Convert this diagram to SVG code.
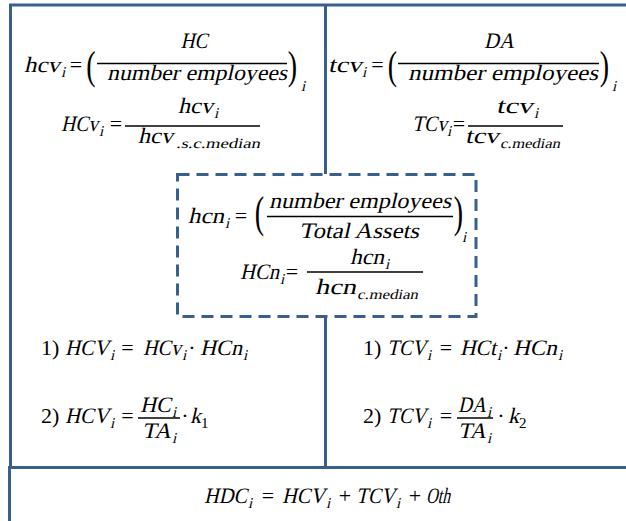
<svg xmlns="http://www.w3.org/2000/svg" width="626" height="521" viewBox="0 0 626 521">
<style>
.f{font-family:"Liberation Serif",serif;font-style:normal;font-size:22px;fill:#000}
.c{text-anchor:middle}
.sb{font-size:15px}
.sm{font-size:14px}
.p{font-family:"Liberation Serif",serif;font-style:normal;font-size:28px;text-anchor:middle;fill:#000}
.bar{stroke:#000;stroke-width:1.3}
.ln{stroke:#3A5F8B;stroke-width:3;fill:none}
.dash{stroke-dasharray:12 7}
</style>
<rect width="626" height="521" fill="#fff"/>
<g id="connectors">
<path class="ln" d="M10.5 4 V468 M9 5 H626 M325.5 5 V174 M325.5 316 V468 M8 467.5 H626 M9.5 467 V521"/>
</g>
<g id="hcv-box">
<text class="f" transform="translate(24,72) skewX(-13)" textLength="36" lengthAdjust="spacingAndGlyphs">hcv</text>
<text class="f sb" transform="translate(61,77) skewX(-13)">i</text>
<text class="f c" x="76" y="72">=</text>
<text class="p" transform="translate(91,79) scale(1,1.4)">(</text>
<line class="bar" x1="97" y1="63.5" x2="287" y2="63.5"/>
<text class="f c" transform="translate(194,48) skewX(-13)" textLength="27" lengthAdjust="spacingAndGlyphs">HC</text>
<text class="f c" transform="translate(197,80) skewX(-13)" textLength="180" lengthAdjust="spacingAndGlyphs">number employees</text>
<text class="p" transform="translate(292.5,79) scale(1,1.4)">)</text>
<text class="f sb" transform="translate(301,91) skewX(-13)">i</text>
<text class="f" transform="translate(61,131) skewX(-13)" textLength="37" lengthAdjust="spacingAndGlyphs">HCv</text>
<text class="f sb" transform="translate(99,136) skewX(-13)">i</text>
<text class="f c" x="116" y="131">=</text>
<line class="bar" x1="125" y1="126" x2="260" y2="126"/>
<text class="f" transform="translate(178,113) skewX(-13)" textLength="35" lengthAdjust="spacingAndGlyphs">hcv</text>
<text class="f sb" transform="translate(214,118) skewX(-13)">i</text>
<text class="f" transform="translate(138,143) skewX(-13)" textLength="35" lengthAdjust="spacingAndGlyphs">hcv</text>
<text class="f sm" transform="translate(176,148) skewX(-13)" textLength="84" lengthAdjust="spacingAndGlyphs">.s.c.median</text>
</g>
<g id="tcv-box">
<text class="f" transform="translate(328,72) skewX(-13)" textLength="34" lengthAdjust="spacingAndGlyphs">tcv</text>
<text class="f sb" transform="translate(362,77) skewX(-13)">i</text>
<text class="f c" x="377.5" y="72">=</text>
<text class="p" transform="translate(392.5,79) scale(1,1.4)">(</text>
<line class="bar" x1="398" y1="63.5" x2="599" y2="63.5"/>
<text class="f c" transform="translate(499,48) skewX(-13)" textLength="30" lengthAdjust="spacingAndGlyphs">DA</text>
<text class="f c" transform="translate(503,80) skewX(-13)" textLength="190" lengthAdjust="spacingAndGlyphs">number employees</text>
<text class="p" transform="translate(604.5,79) scale(1,1.4)">)</text>
<text class="f sb" transform="translate(612,91) skewX(-13)">i</text>
<text class="f" transform="translate(412,131) skewX(-13)" textLength="35" lengthAdjust="spacingAndGlyphs">TCv</text>
<text class="f sb" transform="translate(447,136) skewX(-13)">i</text>
<text class="f c" x="459" y="131">=</text>
<line class="bar" x1="468" y1="126" x2="563" y2="126"/>
<text class="f" transform="translate(496,113) skewX(-13)" textLength="37" lengthAdjust="spacingAndGlyphs">tcv</text>
<text class="f sb" transform="translate(534,118) skewX(-13)">i</text>
<text class="f" transform="translate(465,143) skewX(-13)" textLength="34" lengthAdjust="spacingAndGlyphs">tcv</text>
<text class="f sm" transform="translate(500,148) skewX(-13)" textLength="60" lengthAdjust="spacingAndGlyphs">c.median</text>
</g>
<g id="hcn-box">
<rect class="ln dash" x="177.5" y="174.5" width="298.5" height="142"/>
<text class="f" transform="translate(188,223) skewX(-13)" textLength="36" lengthAdjust="spacingAndGlyphs">hcn</text>
<text class="f sb" transform="translate(225,228) skewX(-13)">i</text>
<text class="f c" x="241" y="223">=</text>
<text class="p" transform="translate(259.5,227) scale(1,1.6)">(</text>
<line class="bar" x1="267" y1="216.5" x2="453" y2="216.5"/>
<text class="f c" transform="translate(360,208) skewX(-13)" textLength="182" lengthAdjust="spacingAndGlyphs">number employees</text>
<text class="f c" transform="translate(359,238) skewX(-13)" textLength="120" lengthAdjust="spacingAndGlyphs">Total Assets</text>
<text class="p" transform="translate(458.5,227) scale(1,1.6)">)</text>
<text class="f sb" transform="translate(462,242) skewX(-13)">i</text>
<text class="f" transform="translate(240,279) skewX(-13)" textLength="39" lengthAdjust="spacingAndGlyphs">HCn</text>
<text class="f sb" transform="translate(280,284) skewX(-13)">i</text>
<text class="f c" x="292" y="279">=</text>
<line class="bar" x1="307" y1="272" x2="423" y2="272"/>
<text class="f" transform="translate(350,264) skewX(-13)" textLength="34" lengthAdjust="spacingAndGlyphs">hcn</text>
<text class="f sb" transform="translate(385,269) skewX(-13)">i</text>
<text class="f" transform="translate(315,294) skewX(-13)" textLength="41" lengthAdjust="spacingAndGlyphs">hcn</text>
<text class="f sm" transform="translate(357,299) skewX(-13)" textLength="61" lengthAdjust="spacingAndGlyphs">c.median</text>
</g>
<g id="hcv-calc">
<text class="f" x="41" y="355">1)</text>
<text class="f" transform="translate(65,355) skewX(-13)" textLength="44" lengthAdjust="spacingAndGlyphs">HCV</text>
<text class="f sb" transform="translate(110,360) skewX(-13)">i</text>
<text class="f c" x="127.5" y="355">=</text>
<text class="f" transform="translate(143,355) skewX(-13)" textLength="38" lengthAdjust="spacingAndGlyphs">HCv</text>
<text class="f sb" transform="translate(182,360) skewX(-13)">i</text>
<text class="f c" x="192" y="355">·</text>
<text class="f" transform="translate(200,355) skewX(-13)" textLength="42" lengthAdjust="spacingAndGlyphs">HCn</text>
<text class="f sb" transform="translate(243,360) skewX(-13)">i</text>
<text class="f" x="41" y="423">2)</text>
<text class="f" transform="translate(65,423) skewX(-13)" textLength="44" lengthAdjust="spacingAndGlyphs">HCV</text>
<text class="f sb" transform="translate(110,428) skewX(-13)">i</text>
<text class="f c" x="127.5" y="423">=</text>
<line class="bar" x1="138" y1="418" x2="180" y2="418"/>
<text class="f" transform="translate(140,412) skewX(-13)" textLength="31" lengthAdjust="spacingAndGlyphs">HC</text>
<text class="f sb" transform="translate(172,417) skewX(-13)">i</text>
<text class="f" transform="translate(142,438) skewX(-13)" textLength="29" lengthAdjust="spacingAndGlyphs">TA</text>
<text class="f sb" transform="translate(172,443) skewX(-13)">i</text>
<text class="f c" x="185" y="423">·</text>
<text class="f" transform="translate(190,423) skewX(-13)">k</text>
<text class="f sb" x="201" y="428">1</text>
</g>
<g id="tcv-calc">
<text class="f" x="363" y="355">1)</text>
<text class="f" transform="translate(387,355) skewX(-13)" textLength="39" lengthAdjust="spacingAndGlyphs">TCV</text>
<text class="f sb" transform="translate(427,360) skewX(-13)">i</text>
<text class="f c" x="446" y="355">=</text>
<text class="f" transform="translate(460,355) skewX(-13)" textLength="36" lengthAdjust="spacingAndGlyphs">HCt</text>
<text class="f sb" transform="translate(497,360) skewX(-13)">i</text>
<text class="f c" x="506" y="355">·</text>
<text class="f" transform="translate(513,355) skewX(-13)" textLength="44" lengthAdjust="spacingAndGlyphs">HCn</text>
<text class="f sb" transform="translate(558,360) skewX(-13)">i</text>
<text class="f" x="363" y="423">2)</text>
<text class="f" transform="translate(387,423) skewX(-13)" textLength="39" lengthAdjust="spacingAndGlyphs">TCV</text>
<text class="f sb" transform="translate(427,428) skewX(-13)">i</text>
<text class="f c" x="446" y="423">=</text>
<line class="bar" x1="457" y1="418" x2="493" y2="418"/>
<text class="f" transform="translate(458,412) skewX(-13)" textLength="28" lengthAdjust="spacingAndGlyphs">DA</text>
<text class="f sb" transform="translate(487,417) skewX(-13)">i</text>
<text class="f" transform="translate(458,438) skewX(-13)" textLength="28" lengthAdjust="spacingAndGlyphs">TA</text>
<text class="f sb" transform="translate(487,443) skewX(-13)">i</text>
<text class="f c" x="501" y="423">·</text>
<text class="f" transform="translate(508,423) skewX(-13)">k</text>
<text class="f sb" x="519" y="428">2</text>
</g>
<g id="hdc-box">
<text class="f" transform="translate(204,503) skewX(-13)" textLength="43" lengthAdjust="spacingAndGlyphs">HDC</text>
<text class="f sb" transform="translate(248,508) skewX(-13)">i</text>
<text class="f c" x="268" y="503">=</text>
<text class="f" transform="translate(282,503) skewX(-13)" textLength="43" lengthAdjust="spacingAndGlyphs">HCV</text>
<text class="f sb" transform="translate(326,508) skewX(-13)">i</text>
<text class="f c" x="345" y="503">+</text>
<text class="f" transform="translate(356,503) skewX(-13)" textLength="39" lengthAdjust="spacingAndGlyphs">TCV</text>
<text class="f sb" transform="translate(396,508) skewX(-13)">i</text>
<text class="f c" x="415" y="503">+</text>
<text class="f" transform="translate(426,503) skewX(-13)" textLength="24" lengthAdjust="spacingAndGlyphs">Oth</text>
</g>
</svg>
